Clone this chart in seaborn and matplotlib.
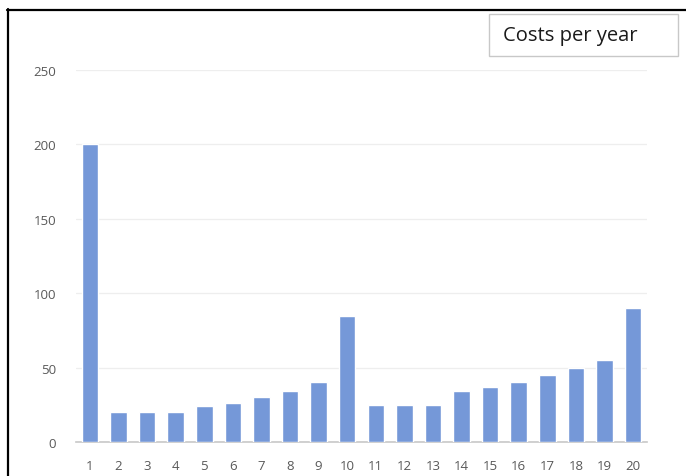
import matplotlib
matplotlib.use("Agg")
import matplotlib.pyplot as plt
from matplotlib.lines import Line2D
from matplotlib.patches import Rectangle
import seaborn as sns
import pandas as pd

years = [str(i) for i in range(1, 21)]
costs = [200, 20, 20, 20, 24, 26, 30, 34, 40, 85, 25, 25, 25, 34, 37, 40, 45, 50, 55, 90]
y_ticks = [0, 50, 100, 150, 200, 250]
title_text = "Costs per year"

sns.set_style("white")
plt.rcParams['font.family'] = ['Open Sans', 'DejaVu Sans']

df = pd.DataFrame({"year": years, "cost": costs})

fig = plt.figure(figsize=(6.86, 4.77), dpi=100)
W, H = 686, 477
ax = fig.add_axes([75.7 / W, (H - 443) / H, (647.3 - 75.7) / W, (443 - 71) / H])

sns.barplot(data=df, x="year", y="cost", color="#7598D8", saturation=1,
            width=0.58, ax=ax, zorder=3)

ax.set_ylim(0, 250)
ax.set_xlim(-0.5, 19.5)
ax.set_yticks(y_ticks)
ax.set_yticklabels([str(t) for t in y_ticks])
ax.yaxis.grid(True, color="#eeeeee", linewidth=0.9, zorder=0)
ax.set_axisbelow(True)
for s in ["top", "right", "left"]:
    ax.spines[s].set_visible(False)
ax.spines["bottom"].set_color("#c8c8c8")
ax.spines["bottom"].set_linewidth(1.2)
ax.tick_params(axis="both", length=0, labelsize=9.5, colors="#595959")
ax.tick_params(axis="x", pad=12)
ax.tick_params(axis="y", pad=14)
ax.set_xlabel("")
ax.set_ylabel("")

# Outer frame lines (top and left)
fig.add_artist(Line2D([7 / W, 1.0], [1 - 10.5 / H, 1 - 10.5 / H], color="black", linewidth=1.6))
fig.add_artist(Line2D([7.5 / W, 7.5 / W], [0, 1 - 10 / H], color="black", linewidth=1.6))

# Title box
fig.add_artist(Rectangle((489 / W, 1 - 57 / H), (678 - 489) / W, (57 - 15) / H,
                         facecolor="white", edgecolor="#c8c8c8", linewidth=1.0))
fig.text(503 / W, 1 - 36 / H, title_text, fontsize=14.5, color="#1a1a1a",
         ha="left", va="center")

fig.savefig("out.png", dpi=100)
